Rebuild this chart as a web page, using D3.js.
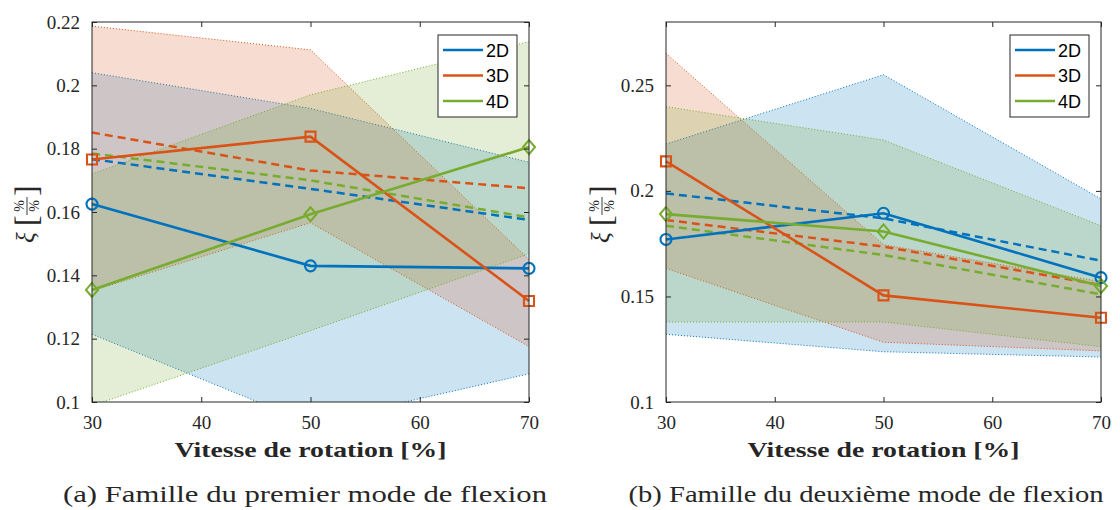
<!DOCTYPE html>
<html><head><meta charset="utf-8">
<script src="https://cdn.jsdelivr.net/npm/d3@7"></script>
<style>body{margin:0;background:#fff}</style>
</head><body><svg id="c" width="1120" height="510"></svg>
<script>
// ---------- DATA ----------
const xValues = [30, 50, 70];
const seriesNames = ["2D", "3D", "4D"];
const xTicks = [30, 40, 50, 60, 70];
const aYTicks = [0.1, 0.12, 0.14, 0.16, 0.18, 0.2, 0.22];
const bYTicks = [0.1, 0.15, 0.2, 0.25];
const aYDomain = [0.1, 0.22];
const bYDomain = [0.1, 0.28];

// (a) Famille du premier mode de flexion
const aSolid2D = [0.1625, 0.1430, 0.1422];
const aSolid3D = [0.1766, 0.1838, 0.1319];
const aSolid4D = [0.1354, 0.1593, 0.1805];
const aDashed2D = [0.1767, 0.1673, 0.1575];
const aDashed3D = [0.1851, 0.1731, 0.1675];
const aDashed4D = [0.1785, 0.1700, 0.1583];
const aUpper2D = [0.2040, 0.1927, 0.1757];
const aLower2D = [0.1214, 0.0932, 0.1089];
const aUpper3D = [0.2187, 0.2112, 0.1450];
const aLower3D = [0.1351, 0.1566, 0.1175];
const aUpper4D = [0.1720, 0.1970, 0.2138];
const aLower4D = [0.0988, 0.1225, 0.1468];

// (b) Famille du deuxième mode de flexion
const bSolid2D = [0.1770, 0.1894, 0.1589];
const bSolid3D = [0.2140, 0.1505, 0.1399];
const bSolid4D = [0.1890, 0.1808, 0.1549];
const bDashed2D = [0.1988, 0.1870, 0.1669];
const bDashed3D = [0.1862, 0.1736, 0.1554];
const bDashed4D = [0.1835, 0.1696, 0.1510];
const bUpper2D = [0.2222, 0.2550, 0.1962];
const bLower2D = [0.1321, 0.1238, 0.1213];
const bUpper3D = [0.2651, 0.1745, 0.1570];
const bLower3D = [0.1633, 0.1283, 0.1242];
const bUpper4D = [0.2399, 0.2241, 0.1835];
const bLower4D = [0.1379, 0.1379, 0.1262];

const captions = ["(a) Famille du premier mode de flexion", "(b) Famille du deuxième mode de flexion"];
const xLabel = "Vitesse de rotation [%]";

// ---------- STYLE ----------
const colors = {"2D": "#0072BD", "3D": "#D95319", "4D": "#77AC30"};
const markers = {"2D": "circle", "3D": "square", "4D": "diamond"};
const axisColor = "#262626";
const serif = "'Liberation Serif', 'DejaVu Serif', serif";
const sans = "'Liberation Sans', Arial, sans-serif";

const panels = [
  {id: "a", left: 92, right: 529, yDomain: aYDomain, yTicks: aYTicks, ylabX: 27,
   capX: 305, capLen: 484,
   solid: [aSolid2D, aSolid3D, aSolid4D], dashed: [aDashed2D, aDashed3D, aDashed4D],
   upper: [aUpper2D, aUpper3D, aUpper4D], lower: [aLower2D, aLower3D, aLower4D]},
  {id: "b", left: 666, right: 1101, yDomain: bYDomain, yTicks: bYTicks, ylabX: 602,
   capX: 866, capLen: 475,
   solid: [bSolid2D, bSolid3D, bSolid4D], dashed: [bDashed2D, bDashed3D, bDashed4D],
   upper: [bUpper2D, bUpper3D, bUpper4D], lower: [bLower2D, bLower3D, bLower4D]}
];
const plotTop = 22, plotBottom = 402;

const svg = d3.select("#c");
svg.append("rect").attr("width", 1120).attr("height", 510).attr("fill", "#fff");

function markerPath(type) {
  if (type === "circle") return d3.symbol(d3.symbolCircle, 95)();
  if (type === "square") return d3.symbol(d3.symbolSquare, 100)();
  return "M0,-7L6,0L0,7L-6,0Z";
}

panels.forEach(p => {
  const x = d3.scaleLinear().domain([30, 70]).range([p.left, p.right]);
  const y = d3.scaleLinear().domain(p.yDomain).range([plotBottom, plotTop]);
  const g = svg.append("g");
  const clipId = "clip-" + p.id;
  g.append("clipPath").attr("id", clipId).append("rect")
    .attr("x", p.left).attr("y", plotTop).attr("width", p.right - p.left).attr("height", plotBottom - plotTop);
  const plot = g.append("g").attr("clip-path", `url(#${clipId})`);

  // bands
  seriesNames.forEach((s, i) => {
    const pts = xValues.map((xv, k) => ({x: xv, hi: p.upper[i][k], lo: p.lower[i][k]}));
    const area = d3.area().x(d => x(d.x)).y0(d => y(d.lo)).y1(d => y(d.hi));
    plot.append("path").attr("d", area(pts)).attr("fill", colors[s]).attr("fill-opacity", 0.2);
    [p.upper[i], p.lower[i]].forEach(arr => {
      const line = d3.line().x((d, k) => x(xValues[k])).y(d => y(d));
      plot.append("path").attr("d", line(arr)).attr("fill", "none")
        .attr("stroke", colors[s]).attr("stroke-width", 1).attr("stroke-dasharray", "1,2");
    });
  });
  // dashed
  seriesNames.forEach((s, i) => {
    const line = d3.line().x((d, k) => x(xValues[k])).y(d => y(d));
    plot.append("path").attr("d", line(p.dashed[i])).attr("fill", "none")
      .attr("stroke", colors[s]).attr("stroke-width", 2.5).attr("stroke-dasharray", "8,5");
  });
  // solid + markers
  seriesNames.forEach((s, i) => {
    const line = d3.line().x((d, k) => x(xValues[k])).y(d => y(d));
    g.append("path").attr("d", line(p.solid[i])).attr("fill", "none")
      .attr("stroke", colors[s]).attr("stroke-width", 2.6);
    g.selectAll(null).data(p.solid[i]).join("path")
      .attr("d", markerPath(markers[s]))
      .attr("transform", (d, k) => `translate(${x(xValues[k])},${y(d)})`)
      .attr("fill", "none").attr("stroke", colors[s]).attr("stroke-width", 2.1);
  });

  // axes box
  g.append("rect").attr("x", p.left).attr("y", plotTop).attr("width", p.right - p.left)
    .attr("height", plotBottom - plotTop).attr("fill", "none").attr("stroke", axisColor).attr("stroke-width", 1);

  const tickLen = 5;
  const xb = g.append("g").attr("transform", `translate(0,${plotBottom})`)
    .call(d3.axisBottom(x).tickValues(xTicks).tickSizeInner(-tickLen).tickSizeOuter(0).tickPadding(14).tickFormat(d3.format("d")));
  const xt = g.append("g").attr("transform", `translate(0,${plotTop})`)
    .call(d3.axisTop(x).tickValues(xTicks).tickSizeInner(-tickLen).tickSizeOuter(0).tickFormat(""));
  const yl = g.append("g").attr("transform", `translate(${p.left},0)`)
    .call(d3.axisLeft(y).tickValues(p.yTicks).tickSizeInner(-tickLen).tickSizeOuter(0).tickPadding(12).tickFormat(d => String(+d.toFixed(2))));
  const yr = g.append("g").attr("transform", `translate(${p.right},0)`)
    .call(d3.axisRight(y).tickValues(p.yTicks).tickSizeInner(-tickLen).tickSizeOuter(0).tickFormat(""));
  [xb, xt, yl, yr].forEach(a => {
    a.select(".domain").remove();
    a.selectAll("line").attr("stroke", axisColor);
    a.selectAll("text").attr("fill", "#262626").style("font-family", serif).style("font-size", "19px");
  });

  // x label
  g.append("text").attr("x", (p.left + p.right) / 2).attr("y", 457)
    .attr("text-anchor", "middle").style("font-family", serif).style("font-weight", "bold")
    .style("font-size", "21px").attr("fill", "#262626")
    .attr("textLength", 272).attr("lengthAdjust", "spacingAndGlyphs").text(xLabel);

  // caption
  g.append("text").attr("x", p.capX).attr("y", 502).attr("text-anchor", "middle")
    .style("font-family", serif).style("font-size", "23px").attr("fill", "#262626")
    .attr("textLength", p.capLen).attr("lengthAdjust", "spacingAndGlyphs").text(captions[p.id === "a" ? 0 : 1]);

  // y label: ξ [%/%]
  const yg = g.append("g").attr("transform", `translate(${p.ylabX},214) rotate(-90)`)
    .attr("fill", "#262626").style("font-family", serif);
  yg.append("text").attr("x", -29).attr("y", 7).style("font-style", "italic").style("font-size", "25px").text("ξ");
  yg.append("text").attr("x", -12).attr("y", 10).style("font-size", "32px").text("[");
  yg.append("text").attr("x", 8).attr("y", -3).attr("text-anchor", "middle").style("font-size", "14px").text("%");
  yg.append("line").attr("x1", -1).attr("x2", 17).attr("y1", 0).attr("y2", 0).attr("stroke", "#262626").attr("stroke-width", 0.9);
  yg.append("text").attr("x", 8).attr("y", 12).attr("text-anchor", "middle").style("font-size", "14px").text("%");
  yg.append("text").attr("x", 18).attr("y", 10).style("font-size", "32px").text("]");

  // legend
  const lx = p.right - 91, ly = plotTop + 13;
  const lg = g.append("g");
  lg.append("rect").attr("x", lx).attr("y", ly).attr("width", 79).attr("height", 82)
    .attr("fill", "#fff").attr("stroke", "#262626").attr("stroke-width", 1);
  seriesNames.forEach((s, i) => {
    const cy = ly + 15 + i * 25.5;
    lg.append("line").attr("x1", lx + 5).attr("x2", lx + 45).attr("y1", cy).attr("y2", cy)
      .attr("stroke", colors[s]).attr("stroke-width", 2.6);
    lg.append("text").attr("x", lx + 48).attr("y", cy + 6.5).style("font-family", sans)
      .style("font-size", "18px").attr("fill", "#000").text(s);
  });
});
</script></body></html>
